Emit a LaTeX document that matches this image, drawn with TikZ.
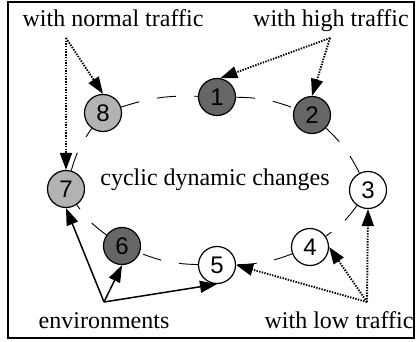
\documentclass[tikz,border=0pt]{standalone}
\usepackage{fontspec}
\setmainfont{Liberation Serif}
\newfontfamily\numfont{Liberation Sans}
\usetikzlibrary{arrows.meta}
\definecolor{darkfill}{HTML}{666666}
\definecolor{lightfill}{HTML}{B3B3B3}
\tikzset{
  state/.style={circle,draw,line width=1.2pt,minimum size=37pt,inner sep=0pt,font=\numfont\fontsize{24}{26}\selectfont},
  label text/.style={font=\fontsize{24}{28}\selectfont,anchor=base,inner sep=0pt},
  cyclelink/.style={line width=0.9pt,dash pattern=on 19pt off 18pt,bend left=10},
  dotarrow/.style={line width=1.9pt,dash pattern=on 1.4pt off 1.3pt,-{Triangle[length=17pt,width=12pt]}},
  envarrow/.style={line width=1.5pt,-{Triangle[length=17pt,width=12pt]}},
}
\begin{document}
\begin{tikzpicture}[x=1pt,y=-1pt]
\useasboundingbox (0,0) rectangle (417,342);
\draw[line width=1.5pt] (8,2) rectangle (414,338);
% states
\node[state,fill=darkfill] (n1) at (217,97) {1};
\node[state,fill=darkfill] (n2) at (312,115) {2};
\node[state,fill=white] (n3) at (368,190) {3};
\node[state,fill=white] (n4) at (310,247) {4};
\node[state,fill=white] (n5) at (217,265) {5};
\node[state,fill=darkfill] (n6) at (122,246) {6};
\node[state,fill=lightfill] (n7) at (66,189) {7};
\node[state,fill=lightfill] (n8) at (103,113) {8};
% cycle
\draw[cyclelink] (n1) to (n2);
\draw[cyclelink] (n2) to (n3);
\draw[cyclelink] (n3) to (n4);
\draw[cyclelink] (n4) to (n5);
\draw[cyclelink] (n5) to (n6);
\draw[cyclelink] (n6) to (n7);
\draw[cyclelink] (n7) to (n8);
\draw[cyclelink] (n8) to (n1);
% labels
\node[label text] (tnormal) at (113,27) {with normal traffic};
\node[label text] (thigh) at (331,27) {with high traffic};
\node[label text] (tcyclic) at (215,185) {cyclic dynamic changes};
\node[label text] (tenv) at (104,328) {environments};
\node[label text] (tlow) at (339,328) {with low traffic};
% sources
\coordinate (snormal) at (66,38);
\coordinate (shigh) at (330,38);
\coordinate (slow) at (367,302);
\coordinate (senv) at (104,302);
% arrows
\draw[dotarrow] (snormal) -- (n8.north);
\draw[dotarrow] (snormal) -- (n7.north);
\draw[dotarrow] (shigh) -- (n1.80);
\draw[dotarrow] (shigh) -- (n2.north);
\draw[dotarrow] (slow) -- (n3.south);
\draw[dotarrow] (slow) -- (n4.east);
\draw[dotarrow] (slow) -- (n5.east);
\draw[envarrow] (senv) -- (n7.south);
\draw[envarrow] (senv) -- (n6.south);
\draw[envarrow] (senv) -- (n5.south);
\end{tikzpicture}
\end{document}
